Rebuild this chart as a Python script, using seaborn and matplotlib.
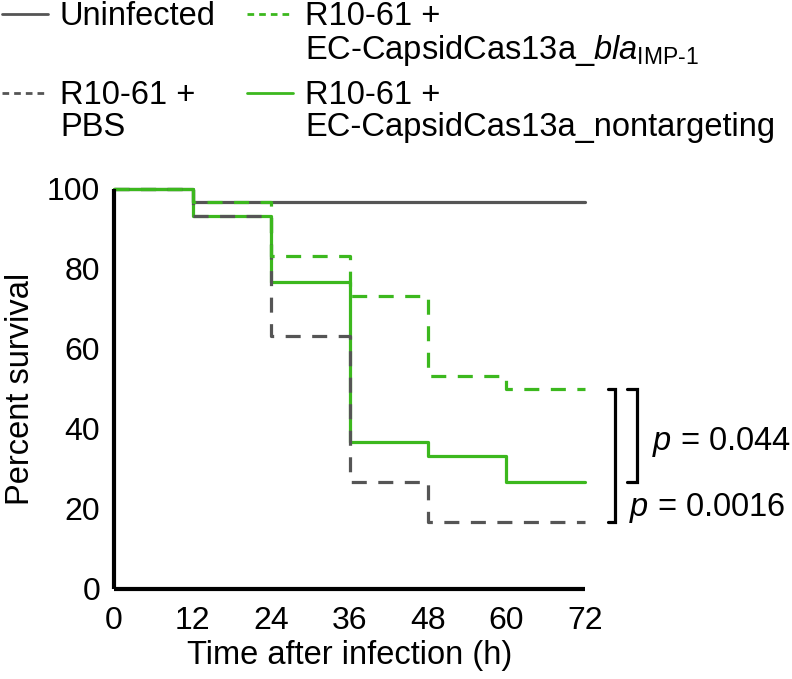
import matplotlib
matplotlib.use('Agg')
import matplotlib.pyplot as plt
from matplotlib.lines import Line2D
import pandas as pd
import seaborn as sns

sns.set_theme(style='white')
plt.rcParams['font.family'] = ['Liberation Sans', 'DejaVu Sans']
plt.rcParams['mathtext.fontset'] = 'custom'
plt.rcParams['mathtext.rm'] = 'Liberation Sans'
plt.rcParams['mathtext.it'] = 'Liberation Sans:italic'
plt.rcParams['text.color'] = 'black'
plt.rcParams['axes.labelcolor'] = 'black'

# survival data (percent)
hours = [0, 12, 24, 36, 48, 60, 72]
uninfected = [100, 96.7, 96.7, 96.7, 96.7, 96.7, 96.7]
pbs = [100, 93.3, 63.3, 26.7, 16.7, 16.7, 16.7]
bla = [100, 96.7, 83.3, 73.3, 53.3, 50.0, 50.0]
nontargeting = [100, 93.3, 76.7, 36.7, 33.3, 26.7, 26.7]
groups = ['Uninfected', 'PBS', 'bla', 'nontargeting']
p_values = ['0.044', '0.0016']

GRAY = '#555555'
GREEN = '#3cb81e'
FS = 23.5

df = pd.concat([
    pd.DataFrame({'time': hours, 'survival': vals, 'group': g})
    for g, vals in zip(groups, [uninfected, pbs, bla, nontargeting])
])

fig = plt.figure(figsize=(7.92, 6.79), dpi=100)
ax = fig.add_axes([114 / 792, 1 - 589 / 679, 471 / 792, 400 / 679])

order = ['Uninfected', 'nontargeting', 'PBS', 'bla']
sns.lineplot(data=df, x='time', y='survival', hue='group', style='group',
             hue_order=order, style_order=order,
             palette={'Uninfected': GRAY, 'PBS': GRAY, 'bla': GREEN, 'nontargeting': GREEN},
             dashes={'Uninfected': '', 'nontargeting': '', 'PBS': (4.7, 3.6), 'bla': (4.7, 3.6)},
             drawstyle='steps-post', linewidth=2.3, estimator=None, sort=True,
             legend=False, ax=ax, clip_on=False)

ax.set_xlim(0, 72)
ax.set_ylim(0, 100)
ax.set_xticks(hours)
ax.set_yticks(range(0, 101, 20))
ax.tick_params(axis='both', length=0, labelsize=23, colors='black')
ax.tick_params(axis='y', pad=10)
ax.tick_params(axis='x', pad=12)
sns.despine(ax=ax)
for s in ['left', 'bottom']:
    ax.spines[s].set_linewidth(3)
    ax.spines[s].set_color('black')
    ax.spines[s].set_capstyle('butt')
ax.set_xlabel('Time after infection (h)', fontsize=FS, labelpad=3, color='black')
ax.set_ylabel('Percent survival', fontsize=FS, labelpad=8, color='black')

# significance brackets between final survival values
def bracket(x, y0, y1, w=1.2):
    ax.plot([x - w, x, x, x - w], [y0, y0, y1, y1], color='black', lw=2.3,
            clip_on=False, solid_joinstyle='miter')

bracket(79.95, bla[-1], nontargeting[-1], w=1.55)
bracket(76.6, bla[-1], pbs[-1], w=1.1)
ax.text(82.3, (bla[-1] + nontargeting[-1]) / 2 - 1.6, '$p$ = ' + p_values[0],
        fontsize=FS, va='center', ha='left', clip_on=False)
ax.text(78.8, 20.3, '$p$ = ' + p_values[1],
        fontsize=FS, va='center', ha='left', clip_on=False)

# legend drawn by hand: handle sits on first text line
def legend_entry(x, y_text, y_line, color, dashed, label):
    ln = Line2D([x / 792, (x + 46) / 792], [1 - y_line / 679] * 2,
                transform=fig.transFigure, color=color, lw=2.0)
    if dashed:
        ln.set_dashes((2.4, 1.8))
    fig.add_artist(ln)
    fig.text((x + 58) / 792, 1 - y_text / 679, label, fontsize=FS, va='top',
             ha='left', linespacing=1.05, transform=fig.transFigure)

legend_entry(2, 1, 14, GRAY, False, 'Uninfected')
legend_entry(247, 1, 14, GREEN, True, 'R10-61 +\nEC-CapsidCas13a_$\\mathit{bla}_{\\mathrm{IMP\u20101}}$')
legend_entry(2, 80, 93, GRAY, True, 'R10-61 +\nPBS')
legend_entry(247, 80, 93, GREEN, False, 'R10-61 +\nEC-CapsidCas13a_nontargeting')

fig.savefig('out.png', dpi=100)
